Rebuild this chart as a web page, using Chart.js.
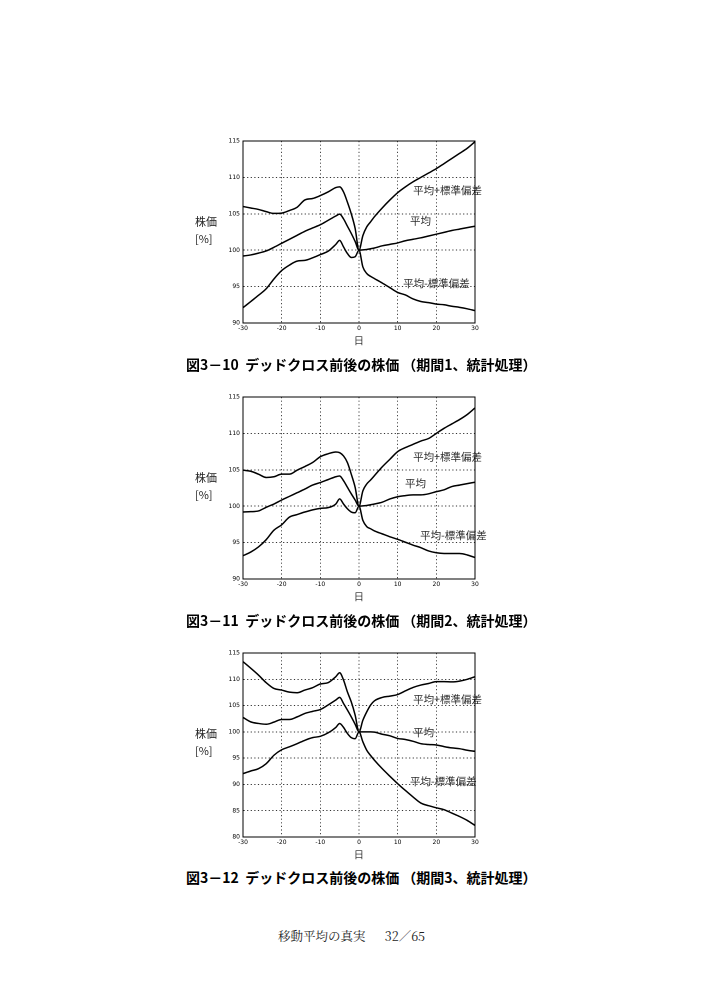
<!DOCTYPE html>
<html><head><meta charset="utf-8">
<script src="https://cdn.jsdelivr.net/npm/chart.js"></script>
<style>
body{margin:0;background:#fff;width:707px;height:1000px;position:relative;overflow:hidden;font-family:"Noto Sans CJK JP",sans-serif;}
canvas{position:absolute;left:180px;}
.t{position:absolute;white-space:nowrap;color:#000;}
.ylab{font-size:11px;line-height:14px;left:195px;color:#222;}
.cap{font-size:14px;line-height:16px;font-weight:bold;left:186px;}
.foot{font-size:12.5px;line-height:16px;left:278px;font-family:"Noto Serif CJK JP","Noto Sans CJK JP",serif;color:#222;}
</style></head>
<body>
<canvas id="c1" width="320" height="217" style="top:130px;width:320px;height:217px"></canvas>
<canvas id="c2" width="320" height="217" style="top:386px;width:320px;height:217px"></canvas>
<canvas id="c3" width="320" height="219" style="top:642px;width:320px;height:219px"></canvas>

<div class="t ylab" style="top:214px">株価</div>
<div class="t ylab" style="top:231px">[%]</div>
<div class="t ylab" style="top:470px">株価</div>
<div class="t ylab" style="top:487px">[%]</div>
<div class="t ylab" style="top:726px">株価</div>
<div class="t ylab" style="top:743px">[%]</div>

<div class="t cap" style="top:356px">図3－10&nbsp;&nbsp;デッドクロス前後の株価 （期間1、統計処理）</div>
<div class="t cap" style="top:612px">図3－11&nbsp;&nbsp;デッドクロス前後の株価 （期間2、統計処理）</div>
<div class="t cap" style="top:869px">図3－12&nbsp;&nbsp;デッドクロス前後の株価 （期間3、統計処理）</div>

<div class="t foot" style="top:928px">移動平均の真実&nbsp;&nbsp;&nbsp;&nbsp;&nbsp;&nbsp;32／65</div>

<script>
// ---- data ----
const days = [-30,-28,-26,-24,-22,-20,-18,-16,-14,-12,-10,-8,-6,-5,-4,-3,-2,-1,0,1,2,3,4,6,8,10,12,14,16,18,20,22,24,26,28,30];

const c1Upper = [106.0,105.8,105.6,105.3,105.05,105.1,105.45,105.9,106.9,107.1,107.5,108.0,108.6,108.7,108.0,106.6,105.0,103.0,100.0,102.0,103.2,103.9,104.6,105.8,106.9,107.9,108.7,109.4,110.0,110.6,111.2,111.9,112.6,113.3,114.0,114.9];
const c1Mean  = [99.2,99.35,99.6,99.9,100.4,100.95,101.5,102.05,102.6,103.05,103.5,104.1,104.7,104.95,104.3,103.3,102.3,101.2,100.0,100.05,100.1,100.2,100.3,100.6,100.8,101.0,101.3,101.5,101.7,101.95,102.2,102.45,102.7,102.9,103.1,103.3];
const c1Lower = [92.1,92.95,93.8,94.7,96.05,97.2,97.95,98.5,98.6,98.95,99.4,99.85,100.8,101.35,100.45,99.55,99.0,99.1,100.0,97.7,96.8,96.4,96.1,95.5,94.85,94.2,93.85,93.3,92.95,92.8,92.6,92.5,92.3,92.15,91.95,91.7];

const c2Upper = [104.95,104.8,104.4,103.95,104.05,104.4,104.4,104.95,105.45,106.0,106.8,107.2,107.45,107.35,106.9,106.0,104.4,102.6,100.0,102.1,103.05,103.6,104.2,105.4,106.45,107.5,108.05,108.5,108.95,109.3,110.0,110.7,111.3,111.9,112.6,113.5];
const c2Mean  = [99.2,99.25,99.35,99.85,100.3,100.85,101.35,101.85,102.35,102.9,103.25,103.65,104.05,104.15,103.5,102.6,101.7,100.85,100.0,100.05,100.1,100.2,100.3,100.55,101.0,101.3,101.45,101.55,101.55,101.7,102.0,102.25,102.7,102.9,103.1,103.3];
const c2Lower = [93.2,93.7,94.4,95.4,96.7,97.45,98.5,98.85,99.2,99.5,99.7,99.8,100.3,101.0,100.3,99.65,99.2,99.1,100.0,98.05,97.2,96.9,96.6,96.2,95.8,95.45,95.05,94.65,94.3,93.85,93.6,93.5,93.5,93.5,93.3,92.95];

const c3Upper = [113.35,112.1,110.8,109.35,108.25,107.95,107.55,107.45,107.95,108.4,109.1,109.35,110.5,111.25,109.85,107.6,105.7,103.2,100.0,102.2,103.8,105.1,105.9,106.55,106.8,107.1,107.8,108.45,108.9,109.2,109.55,109.55,109.5,109.65,110.0,110.5];
const c3Mean  = [102.75,101.9,101.6,101.45,101.85,102.35,102.35,102.85,103.5,103.9,104.25,105.1,106.05,106.55,105.4,104.15,102.85,101.45,100.0,100.0,100.0,100.0,99.95,99.55,99.25,98.75,98.55,98.2,97.75,97.6,97.5,97.2,96.95,96.8,96.5,96.3];
const c3Lower = [92.05,92.55,93.0,93.95,95.55,96.6,97.15,97.75,98.4,98.9,99.15,99.8,100.85,101.6,100.85,99.7,98.9,98.7,100.0,98.1,96.5,95.5,94.6,93.0,91.55,90.15,88.85,87.6,86.45,85.95,85.55,85.2,84.55,83.9,83.15,82.2];

const xTicks = [-30,-20,-10,0,10,20,30];
const yTicks12 = [90,95,100,105,110,115];
const yTicks3 = [80,85,90,95,100,105,110,115];

const seriesNames = ['平均+標準偏差','平均','平均-標準偏差'];
const xTitle = '日';

// ---- layout (label anchor positions in data units) ----
const labelPos1 = [[14,108.3],[13.2,104.05],[11.4,95.5]];
const labelPos2 = [[14,106.8],[11.9,103.2],[15.8,96.05]];
const labelPos3 = [[14,106.2],[14,100.0],[13.2,90.65]];

const boxPlugin = {
  id:'box',
  afterDraw(chart){
    const {ctx, chartArea:a} = chart;
    ctx.save(); ctx.setLineDash([]); ctx.strokeStyle='#000'; ctx.lineWidth=1;
    ctx.strokeRect(a.left, a.top, a.right-a.left, a.bottom-a.top);
    ctx.restore();
  }
};
const labelPlugin = {
  id:'seriesLabels',
  afterDatasetsDraw(chart, args, opts){
    const {ctx, scales} = chart;
    ctx.save();
    ctx.font = '10.5px "Noto Sans CJK JP", sans-serif';
    ctx.textBaseline = 'middle';
    ctx.textAlign = 'left';
    opts.pos.forEach((p,i)=>{
      const px = scales.x.getPixelForValue(p[0]);
      const py = scales.y.getPixelForValue(p[1]);
      ctx.fillStyle = '#2a2a2a';
      ctx.fillText(seriesNames[i], px, py);
    });
    ctx.restore();
  }
};

function makeChart(id, up, mean, low, yTicks, pos){
  const ds = [up, mean, low].map((arr, i) => ({
    label: seriesNames[i],
    data: days.map((d, k) => ({x: d, y: arr[k]})),
    borderColor: '#000', borderWidth: 1.5, pointRadius: 0,
    cubicInterpolationMode: 'monotone', fill: false
  }));
  new Chart(document.getElementById(id), {
    type: 'line',
    data: { datasets: ds },
    options: {
      responsive: false, animation: false, devicePixelRatio: 2,
      layout: { padding: { top: 11, right: 25, left: 0, bottom: 0 } },
      plugins: { legend: {display:false}, tooltip: {enabled:false}, seriesLabels: {pos} },
      scales: {
        x: {
          type: 'linear', min: -30, max: 30,
          afterBuildTicks: s => { s.ticks = xTicks.map(v => ({value: v})); },
          afterFit: s => { s.height = 24; },
          grid: { color: '#333', lineWidth: 0.9, drawTicks: false },
          border: { display: true, color: '#000', width: 1, dash: [1.2, 2.4] },
          ticks: { font: {size: 6, family: 'DejaVu Sans'}, color: '#000', padding: 2, maxRotation: 0 },
          title: { display: true, text: xTitle, font: {size: 10}, color: '#222', padding: 0 }
        },
        y: {
          type: 'linear', min: yTicks[0], max: yTicks[yTicks.length-1],
          afterBuildTicks: s => { s.ticks = yTicks.map(v => ({value: v})); },
          afterFit: s => { s.width = 63; },
          grid: { color: '#333', lineWidth: 0.9, drawTicks: false },
          border: { display: true, color: '#000', width: 1, dash: [1.2, 2.4] },
          ticks: { font: {size: 6, family: 'DejaVu Sans'}, color: '#000', padding: 3 }
        }
      }
    },
    plugins: [boxPlugin, labelPlugin]
  });
}

makeChart('c1', c1Upper, c1Mean, c1Lower, yTicks12, labelPos1);
makeChart('c2', c2Upper, c2Mean, c2Lower, yTicks12, labelPos2);
makeChart('c3', c3Upper, c3Mean, c3Lower, yTicks3, labelPos3);
</script>
</body></html>
